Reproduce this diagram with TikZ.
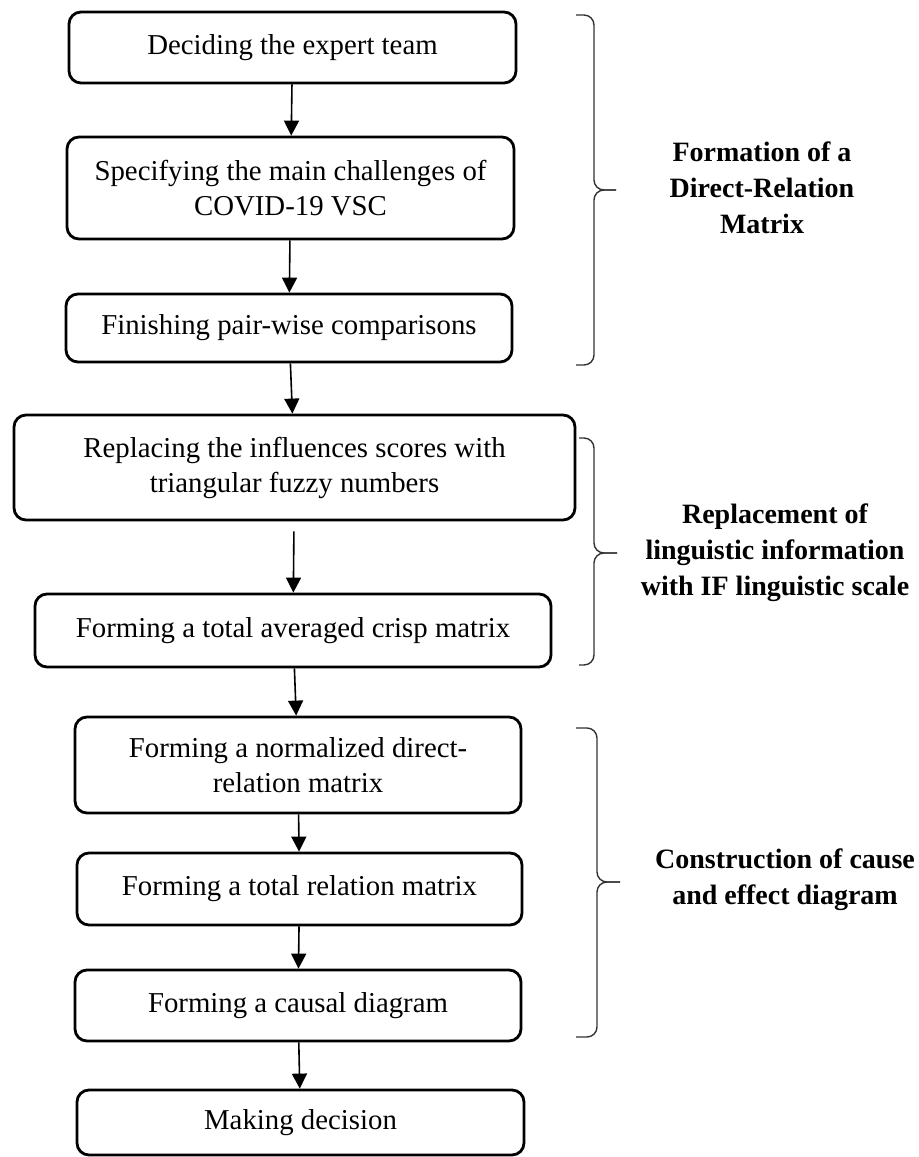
\documentclass[tikz,border=0pt]{standalone}
\usepackage{fontspec}
\setmainfont{Liberation Serif}
\usepackage{tikz}
\usetikzlibrary{arrows.meta,positioning}

\begin{document}
\begin{tikzpicture}[
  x=0.5pt, y=-0.5pt,
  box/.style={rectangle, draw, line width=1.4pt, rounded corners=6pt, align=center, font=\fontsize{14.4}{17.5}\selectfont, inner sep=0pt},
  grp/.style={align=center, font=\fontsize{14}{18}\selectfont\bfseries},
  grpbrace/.style={draw=black!80, line width=0.7pt, rounded corners=5pt},
  arr/.style={-{Triangle[length=7.5pt, width=7.5pt]}, line width=0.8pt}
]
\useasboundingbox (0,0) rectangle (919,1157);

\node[box, minimum width=223.5pt, minimum height=35.5pt] (team) at (292.5,47.5) {Deciding the expert team};

\node[box, minimum width=223.5pt, minimum height=51pt] (challenge) at (290.5,188) {%
Specifying the main challenges of\\
COVID-19 VSC};

\node[box, minimum width=223pt, minimum height=34pt] (pairwise) at (289,328) {Finishing pair-wise comparisons};

\draw[arr] (team) -- (challenge);
\draw[arr] (challenge) -- (pairwise);

\node[box, minimum width=280.5pt, minimum height=52.5pt] (fuzzy) at (294.5,467.5) {%
Replacing the influences scores with\\
triangular fuzzy numbers};

\node[box, minimum width=258pt, minimum height=36.5pt] (crisp) at (293,630.5) {Forming a total averaged crisp matrix};

\draw[arr] (pairwise) -- (fuzzy);
\draw[arr, shorten <=5pt] (fuzzy) -- (crisp);

\node[box, minimum width=223pt, minimum height=48pt] (normal) at (298,765) {%
Forming a normalized direct-\\
relation matrix};

\node[box, minimum width=222.5pt, minimum height=36pt] (total) at (299.5,889) {Forming a total relation matrix};

\node[box, minimum width=223pt, minimum height=35.5pt] (causal) at (298,1005.5) {Forming a causal diagram};

\node[box, minimum width=223.5pt, minimum height=32.5pt] (decide) at (300.5,1122.5) {Making decision};

\draw[arr] (crisp) -- (normal);
\draw[arr] (normal) -- (total);
\draw[arr] (total) -- (causal);
\draw[arr] (causal) -- (decide);

% group braces
\draw[grpbrace] (576,15) -- (594,15) -- (594,190) -- (616,190);
\draw[grpbrace] (616,190) -- (594,190) -- (594,365) -- (576,365);
\node[grp] (formation) at (762,188) {Formation of a\\Direct-Relation\\Matrix};

\draw[grpbrace] (579,438) -- (594,438) -- (594,553) -- (617,553);
\draw[grpbrace] (617,553) -- (594,553) -- (594,665) -- (579,665);
\node[grp] (replace) at (775,553) {Replacement of\\linguistic information\\with IF linguistic scale};

\draw[grpbrace] (576,728) -- (597,728) -- (597,882) -- (620,882);
\draw[grpbrace] (620,882) -- (597,882) -- (597,1037) -- (576,1037);
\node[grp] (construct) at (785,880) {Construction of cause\\and effect diagram};

\end{tikzpicture}
\end{document}
